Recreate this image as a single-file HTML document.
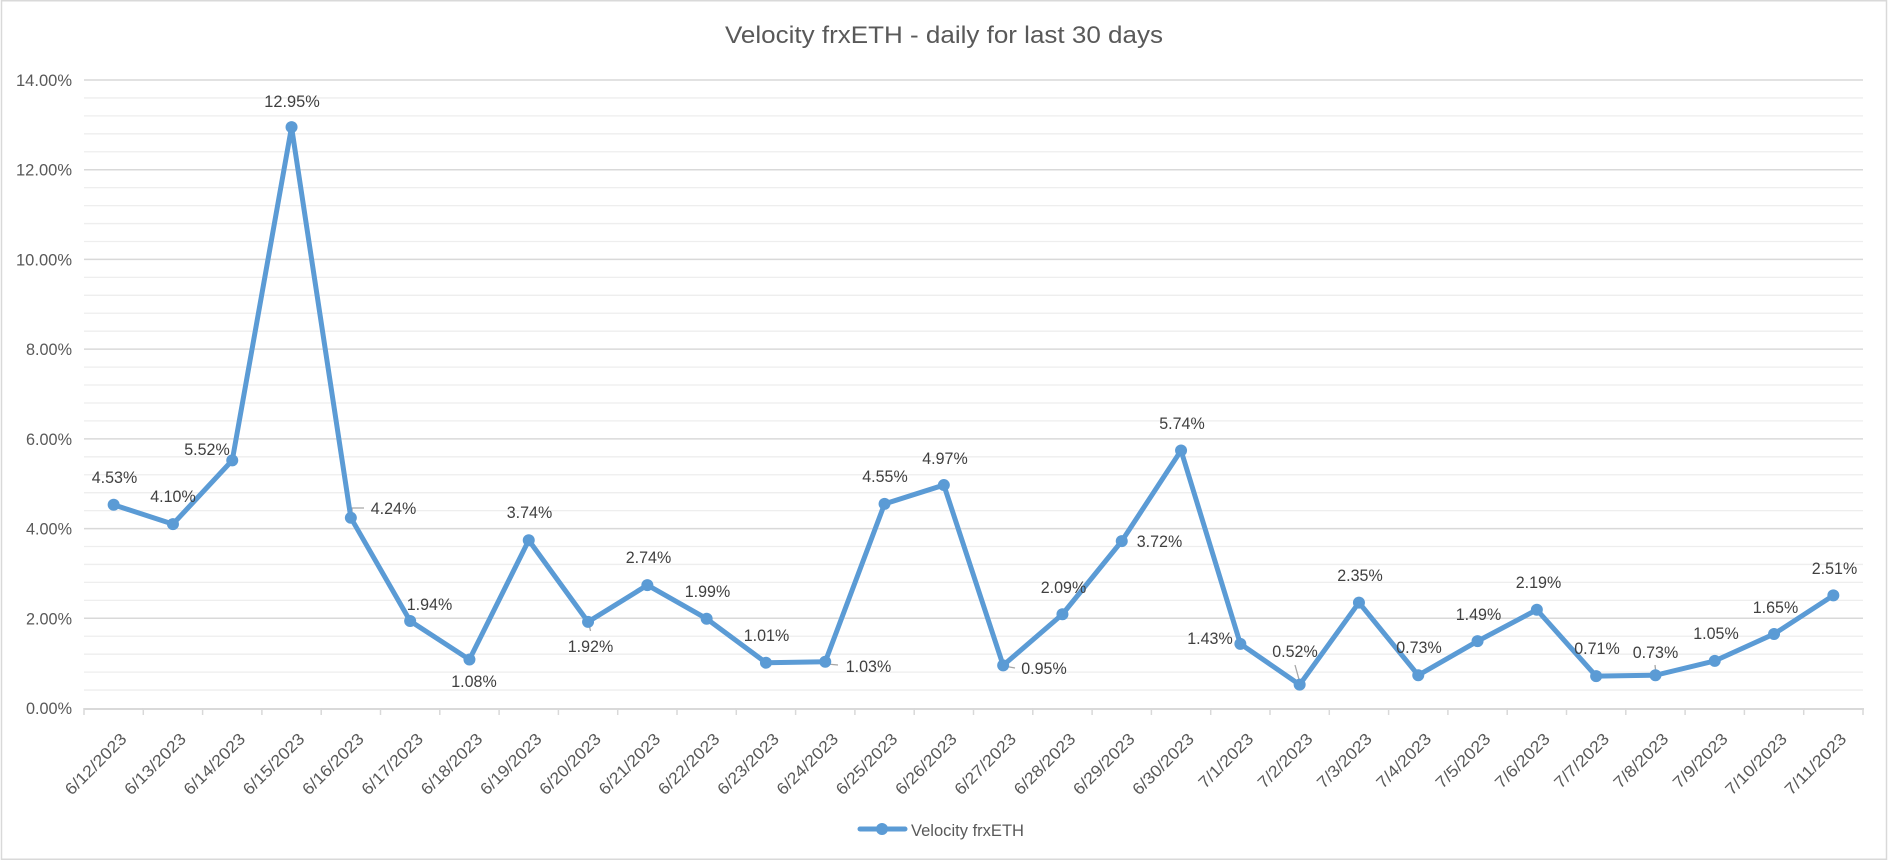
<!DOCTYPE html>
<html>
<head>
<meta charset="utf-8">
<style>
html,body{margin:0;padding:0;background:#fff;}
svg{display:block;}
text{font-family:"Liberation Sans",Arial,sans-serif;}
</style>
</head>
<body>
<svg id="c" width="1889" height="861" viewBox="0 0 1889 861" xmlns="http://www.w3.org/2000/svg">
<rect x="0" y="0" width="1889" height="861" fill="#fff"/>
<rect x="1.5" y="0.75" width="1885" height="858.5" fill="none" stroke="#d9d9d9" stroke-width="1.5"/>
<text x="944" y="43" font-size="24.5" fill="#595959" text-anchor="middle" textLength="438" lengthAdjust="spacingAndGlyphs">Velocity frxETH - daily for last 30 days</text>
<g id="grid"></g>
<g id="axis"></g>
<g id="lead" stroke="#a6a6a6" stroke-width="1.3" fill="none">
<polyline points="352,516 352,508 364,508"/>
<line x1="588.5" y1="622" x2="590.5" y2="631"/>
<line x1="827" y1="664" x2="838" y2="665"/>
<line x1="1004" y1="666" x2="1015" y2="668"/>
<line x1="1295" y1="665" x2="1300" y2="683"/>
<line x1="1655" y1="665" x2="1656" y2="674"/>
</g>
<g id="series"></g>
<g id="labels"></g>
<g id="legend">
<line x1="860" y1="829" x2="905" y2="829" stroke="#5b9bd5" stroke-width="5" stroke-linecap="round"/>
<circle cx="882" cy="829" r="6" fill="#5b9bd5"/>
<text x="911" y="836" font-size="16.5" fill="#595959" textLength="113" lengthAdjust="spacingAndGlyphs">Velocity frxETH</text>
</g>
</svg>
<script>
(function(){
var NS="http://www.w3.org/2000/svg";
function el(tag,attrs,parent,txt){var e=document.createElementNS(NS,tag);for(var k in attrs)e.setAttribute(k,attrs[k]);if(txt!==undefined)e.textContent=txt;parent.appendChild(e);return e;}
var L=84,R=1863,Y0=708,Y14=80;
var cw=(R-L)/30;
function yv(v){return Y0-(v/14)*(Y0-Y14);}
var grid=document.getElementById('grid');
// minor lines every 0.4%
for(var k=0;k<=35;k++){
  var v=k*0.4; var y=yv(v);
  if(k%5===0) continue;
  el('line',{x1:L,x2:R,y1:y.toFixed(2),y2:y.toFixed(2),stroke:'#eeeeee','stroke-width':1.3},grid);
}
for(var k=1;k<=7;k++){
  var y=yv(k*2);
  el('line',{x1:L,x2:R,y1:y.toFixed(2),y2:y.toFixed(2),stroke:'#d9d9d9','stroke-width':1.5},grid);
}
// y labels
for(var k=0;k<=7;k++){
  var y=yv(k*2);
  var t=(k*2).toFixed(2)+'%';
  var w=t.length===6?56:46;
  el('text',{x:72,y:(y+6).toFixed(2),'font-size':16.5,fill:'#595959','text-anchor':'end',textLength:w,lengthAdjust:'spacingAndGlyphs'},grid,t);
}
var axis=document.getElementById('axis');
el('line',{x1:L,x2:R+1,y1:709,y2:709,stroke:'#d9d9d9','stroke-width':2},axis);
for(var k=0;k<=30;k++){
  var x=L+k*cw;
  el('line',{x1:x.toFixed(2),x2:x.toFixed(2),y1:708,y2:715,stroke:'#d9d9d9','stroke-width':1.5},axis);
}
var dates=[];
for(var d=12;d<=30;d++)dates.push('6/'+d+'/2023');
for(var d=1;d<=11;d++)dates.push('7/'+d+'/2023');
dates.forEach(function(s,i){
  var xc=L+cw*(i+0.5);
  var digits=s.replace(/\//g,'').length, sl=2;
  var w=(digits*0.507+sl*0.386)*18.67-1.5;
  var tx=xc+14, ty=740;
  el('text',{x:0,y:0,'font-size':16.5,fill:'#595959','text-anchor':'end',textLength:w.toFixed(1),lengthAdjust:'spacingAndGlyphs',transform:'translate('+tx.toFixed(2)+','+ty+') rotate(-45)'},axis,s);
});
var data=[4.53,4.10,5.52,12.95,4.24,1.94,1.08,3.74,1.92,2.74,1.99,1.01,1.03,4.55,4.97,0.95,2.09,3.72,5.74,1.43,0.52,2.35,0.73,1.49,2.19,0.71,0.73,1.05,1.65,2.51];
var lab=[[114.5,477],[173,496],[207,449],[292,101],[393.5,508],[429.5,604],[474,681],[529.5,512],[590.5,646],[648.5,557],[707.5,591],[766.5,635],[868.5,666],[885,476],[945,458],[1044,668],[1063.5,587],[1159.5,541],[1182,423],[1210,638],[1295,651],[1360,575],[1419,647],[1478.5,614],[1538.5,582],[1597,648],[1655.5,652],[1716,633],[1775.5,607],[1834.5,568]];
var pts=data.map(function(v,i){return [L+cw*(i+0.5),yv(v)];});
var series=document.getElementById('series');
el('polyline',{points:pts.map(function(p){return p[0].toFixed(2)+','+p[1].toFixed(2);}).join(' '),fill:'none',stroke:'#5b9bd5','stroke-width':5,'stroke-linejoin':'round','stroke-linecap':'round'},series);
pts.forEach(function(p){el('circle',{cx:p[0].toFixed(2),cy:p[1].toFixed(2),r:6,fill:'#5b9bd5'},series);});
var labels=document.getElementById('labels');
data.forEach(function(v,i){
  var t=v.toFixed(2)+'%';
  var w=t.length===6?55.5:45.5;
  el('text',{x:lab[i][0],y:lab[i][1]+6,'font-size':16.5,fill:'#404040','text-anchor':'middle',textLength:w,lengthAdjust:'spacingAndGlyphs'},labels,t);
});
})();
</script>
</body>
</html>
